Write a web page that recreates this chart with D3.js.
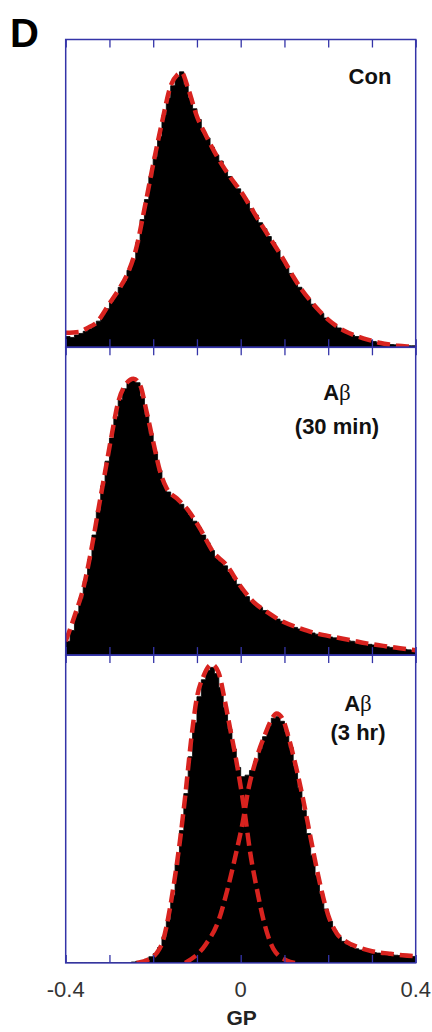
<!DOCTYPE html>
<html>
<head>
<meta charset="utf-8">
<script src="https://cdn.jsdelivr.net/npm/d3@7"></script>
<style>
  html, body { margin: 0; padding: 0; background: #ffffff; }
  svg { display: block; }
</style>
</head>
<body>
<div id="chart"></div>
<script>
// ---------------- DATA ----------------
const panelNames = ["Con", "Aβ (30 min)", "Aβ (3 hr)"];
const xTickLabels = ["-0.4", "0", "0.4"];
const xTickValues = [-0.4, 0, 0.4];
const xMinorTicks = [-0.4, -0.3, -0.2, -0.1, 0, 0.1, 0.2, 0.3, 0.4];
const axisTitle = "GP";
const binWidth = 0.01;

// Histogram counts (relative frequency, 0-100 = panel height), bins of 0.01 GP from -0.4 to 0.4
const histCon = [3.5,3.2,4.0,4.5,5.2,6.0,7.2,8.5,10.5,12.5,15.0,17.0,19.5,21.5,25.0,28.5,34.0,41.5,48.0,55.5,
  62.0,68.5,75.5,81.0,85.0,88.0,89.5,85.5,81.0,77.5,74.0,70.0,68.0,65.0,62.5,60.5,57.5,55.5,53.5,51.5,
  49.5,47.5,45.0,43.0,40.5,38.5,36.0,34.0,31.5,29.0,26.5,24.0,21.5,19.5,17.5,15.8,14.0,12.3,11.0,9.5,
  8.3,7.2,6.3,5.4,4.7,4.0,3.5,3.0,2.6,2.2,1.9,1.6,1.3,1.1,0.9,0.8,0.7,0.6,0.5,0.5];
const hist30min = [4.5,8.0,13.5,18.5,24.0,31.0,39.0,47.0,55.0,63.0,70.5,77.5,83.0,86.5,89.0,90.0,88.5,84.0,78.0,72.0,
  66.0,60.0,55.5,53.0,51.5,50.5,49.0,47.5,45.5,43.5,41.5,39.0,36.5,34.0,32.0,30.5,29.0,27.0,25.0,23.0,
  21.0,19.0,17.5,16.5,15.5,14.5,13.5,12.5,11.7,11.0,10.2,9.6,9.0,8.5,8.0,7.6,7.2,6.8,6.5,6.2,
  5.9,5.6,5.3,5.0,4.8,4.5,4.2,4.0,3.7,3.5,3.3,3.1,2.9,2.7,2.5,2.3,2.1,1.9,1.7,1.5];
const hist3hr = [0,0,0,0,0,0,0,0,0,0,0,0,0,0,0,0.3,0.5,0.8,1.2,2.0,
  3.0,5.0,8.5,14.0,22.0,32.0,43.0,55.0,67.0,78.0,86.5,92.0,95.0,96.0,94.0,89.5,83.0,76.0,69.5,63.5,
  60.5,61.0,62.5,65.5,69.5,73.5,77.0,79.5,80.0,78.5,75.0,70.0,64.0,57.0,49.5,42.0,35.0,28.5,22.5,17.5,
  13.5,10.5,8.5,7.0,6.0,5.2,4.6,4.2,3.9,3.6,3.4,3.2,3.0,2.8,2.7,2.5,2.4,2.3,2.2,2.1];

// Fitted curves (red dashed): GP values and fitted frequencies
const fitConGP  = [-0.400,-0.370,-0.350,-0.330,-0.300,-0.280,-0.260,-0.240,-0.220,-0.200,-0.180,-0.160,-0.145,-0.135,-0.120,-0.100,-0.080,-0.060,-0.040,-0.020,0.000,0.020,0.040,0.060,0.080,0.100,0.120,0.140,0.160,0.180,0.200,0.220,0.240,0.260,0.280,0.300,0.320,0.340,0.360,0.380,0.400];
const fitConVal = [4.7,5.0,6.3,8.0,14.2,18.5,23.5,31.5,45.0,59.5,73.0,85.0,88.5,89.2,84.0,75.0,69.0,63.5,58.7,54.5,50.7,46.2,41.5,37.0,32.6,28.0,23.0,18.6,15.0,11.8,9.0,6.8,5.1,3.9,2.9,2.1,1.4,0.9,0.5,0.3,0.2];

const fit30GP  = [-0.400,-0.379,-0.360,-0.341,-0.325,-0.310,-0.295,-0.280,-0.264,-0.245,-0.230,-0.215,-0.200,-0.184,-0.169,-0.146,-0.123,-0.093,-0.063,-0.032,-0.002,0.029,0.059,0.097,0.136,0.174,0.212,0.250,0.288,0.326,0.364,0.400];
const fit30Val = [4.5,13.0,21.6,34.6,47.6,59.5,71.4,82.2,87.7,89.8,87.7,79.0,69.3,59.5,54.1,50.9,47.6,41.1,33.5,29.2,22.7,17.3,14.1,10.8,8.7,7.0,5.9,4.9,3.8,3.0,2.2,1.6];

const fit3hrAGP  = [-0.238,-0.207,-0.192,-0.177,-0.162,-0.150,-0.139,-0.127,-0.112,-0.101,-0.085,-0.066,-0.051,-0.036,-0.024,-0.013,-0.002,0.010,0.021,0.037,0.052,0.075,0.105,0.124];
const fit3hrAVal = [0,1.4,3.2,7.5,17.5,28.2,39.5,54.0,74.0,85.5,93.2,97.0,94.5,85.0,76.0,68.0,59.0,48.0,36.5,24.0,14.0,4.5,0.8,0];
const fit3hrBGP  = [-0.127,-0.080,-0.050,-0.030,-0.010,0.005,0.017,0.035,0.055,0.070,0.082,0.095,0.110,0.120,0.140,0.160,0.180,0.200,0.220,0.240,0.270,0.300,0.340,0.370,0.400];
const fit3hrBVal = [0,6.0,14.0,24.0,36.0,46.0,56.0,66.0,74.0,79.0,81.0,79.5,73.0,67.5,55.0,40.5,26.5,15.5,9.5,7.0,5.0,3.8,3.0,2.5,2.2];

// ---------------- LAYOUT ----------------
const W = 432, H = 1032;
const plotLeft = 65.7, plotRight = 415.7;
const panelTop0 = 39.5, panelH = 307.8;
const axisColor = "#3434a8";
const red = "#d8231f";

const svg = d3.select("#chart").append("svg")
  .attr("width", W).attr("height", H)
  .attr("viewBox", `0 0 ${W} ${H}`);

const x = d3.scaleLinear().domain([-0.4, 0.4]).range([plotLeft, plotRight]);

const panels = [
  { hist: histCon, fits: [[fitConGP, fitConVal]], label: [["Con", null]], lx: 370, ly: [84] },
  { hist: hist30min, fits: [[fit30GP, fit30Val]], label: [["A", "β"], ["(30 min)", null]], lx: 337, ly: [400, 434] },
  { hist: hist3hr, fits: [[fit3hrAGP, fit3hrAVal], [fit3hrBGP, fit3hrBVal]], label: [["A", "β"], ["(3 hr)", null]], lx: 358, ly: [711, 740] }
];

panels.forEach((p, i) => {
  const top = panelTop0 + i * panelH;
  const bottom = top + panelH;
  const y = d3.scaleLinear().domain([0, 100]).range([bottom, top]);
  const g = svg.append("g");

  const clipId = "clip" + i;
  svg.append("clipPath").attr("id", clipId)
    .append("rect").attr("x", plotLeft).attr("y", top).attr("width", plotRight - plotLeft).attr("height", panelH);

  // histogram as step area
  const pts = [];
  p.hist.forEach((v, k) => {
    const x0 = -0.4 + k * binWidth;
    pts.push([x0, v]);
    pts.push([x0 + binWidth, v]);
  });
  const area = d3.area()
    .x(d => x(d[0]))
    .y0(y(0))
    .y1(d => y(d[1]));
  g.append("path")
    .attr("clip-path", `url(#${clipId})`)
    .attr("d", area(pts))
    .attr("fill", "#000")
    .attr("stroke", "#000")
    .attr("stroke-width", 0.8);

  // fits
  const line = d3.line().x(d => x(d[0])).y(d => y(d[1])).curve(d3.curveMonotoneX);
  p.fits.forEach(([gx, gv]) => {
    g.append("path")
      .attr("clip-path", `url(#${clipId})`)
      .attr("d", line(gx.map((v, k) => [v, gv[k]])))
      .attr("fill", "none")
      .attr("stroke", red)
      .attr("stroke-width", 4.5)
      .attr("stroke-dasharray", "13,6");
  });

  // ticks (top and bottom, inward)
  const topAxis = d3.axisTop(x).tickValues(xMinorTicks).tickSize(-8).tickFormat("");
  const botAxis = d3.axisBottom(x).tickValues(xMinorTicks).tickSize(-8).tickFormat("");
  const ta = g.append("g").attr("transform", `translate(0,${top})`).call(topAxis);
  const ba = g.append("g").attr("transform", `translate(0,${bottom})`).call(botAxis);
  [ta, ba].forEach(a => {
    a.select(".domain").remove();
    a.selectAll("line").attr("stroke", axisColor).attr("stroke-width", 1.3);
  });

  // frame
  g.append("rect")
    .attr("x", plotLeft).attr("y", top)
    .attr("width", plotRight - plotLeft).attr("height", panelH)
    .attr("fill", "none").attr("stroke", axisColor).attr("stroke-width", 1.5);

  // label
  p.label.forEach((parts, k) => {
    const t = g.append("text")
      .attr("x", p.lx).attr("y", p.ly[k])
      .attr("text-anchor", "middle")
      .attr("font-family", "Liberation Sans, Arial, sans-serif")
      .attr("font-weight", "bold")
      .attr("font-size", 22)
      .attr("fill", "#111");
    t.append("tspan").text(parts[0]);
    if (parts[1]) {
      t.append("tspan").text(parts[1])
        .attr("font-family", "Liberation Serif, DejaVu Serif, serif")
        .attr("font-weight", "normal")
        .attr("font-size", 23);
    }
  });
});

// bottom tick labels
svg.append("g").selectAll("text")
  .data(xTickValues)
  .join("text")
  .attr("x", d => x(d))
  .attr("y", 997)
  .attr("text-anchor", "middle")
  .attr("font-family", "Liberation Sans, Arial, sans-serif")
  .attr("font-size", 22)
  .attr("fill", "#333")
  .text((d, i) => xTickLabels[i]);

svg.append("text")
  .attr("x", x(0) + 1).attr("y", 1025)
  .attr("text-anchor", "middle")
  .attr("font-family", "Liberation Sans, Arial, sans-serif")
  .attr("font-weight", "bold")
  .attr("font-size", 21)
  .attr("fill", "#222")
  .text(axisTitle);

svg.append("text")
  .attr("x", 10).attr("y", 47)
  .attr("font-family", "Liberation Sans, Arial, sans-serif")
  .attr("font-weight", "bold")
  .attr("font-size", 40)
  .attr("fill", "#000")
  .text("D");
</script>
</body>
</html>
